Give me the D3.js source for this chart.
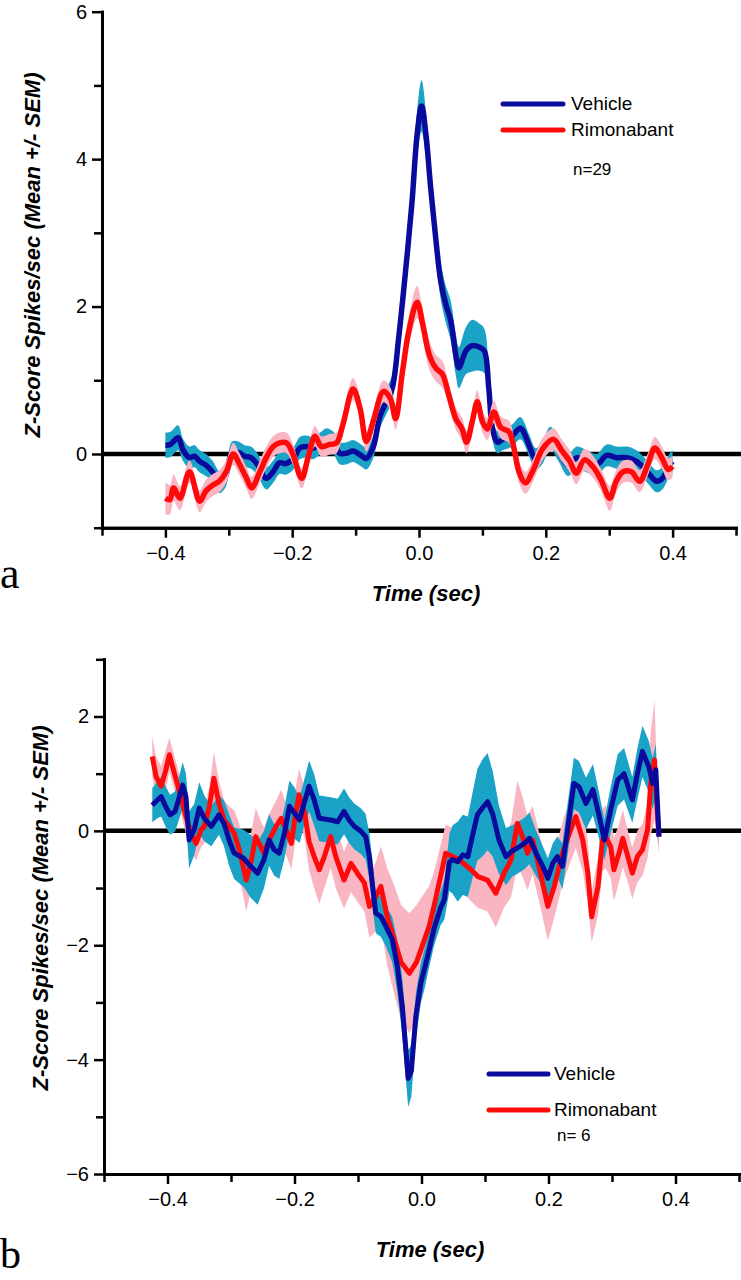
<!DOCTYPE html>
<html><head><meta charset="utf-8">
<script src="https://cdn.jsdelivr.net/npm/d3@7"></script>
<style>body{margin:0;background:#fff} svg{display:block}</style>
</head><body>
<svg id="c" width="741" height="1280"></svg>
<script>
// ---------- DATA ----------
// [time (sec), mean z-score, SEM]
const aVehicle = [
[-0.400,0.12,0.17],[-0.392,0.13,0.17],[-0.380,0.22,0.17],[-0.372,0.05,0.15],[-0.362,-0.05,0.15],
[-0.354,-0.03,0.15],[-0.346,-0.10,0.15],[-0.336,-0.15,0.15],[-0.325,-0.25,0.15],[-0.315,-0.38,0.15],
[-0.305,-0.30,0.15],[-0.295,0.02,0.15],[-0.285,0.02,0.15],[-0.275,-0.03,0.15],[-0.265,-0.05,0.15],
[-0.255,-0.14,0.15],[-0.241,-0.33,0.15],[-0.230,-0.24,0.15],[-0.220,-0.12,0.15],[-0.210,-0.13,0.15],
[-0.198,-0.06,0.15],[-0.188,0.08,0.15],[-0.178,0.10,0.15],[-0.167,0.08,0.15],[-0.156,0.14,0.15],
[-0.146,0.20,0.15],[-0.135,0.15,0.15],[-0.125,0.01,0.15],[-0.114,0.01,0.15],[-0.104,0.04,0.15],
[-0.093,-0.01,0.15],[-0.083,-0.06,0.15],[-0.072,0.10,0.15],[-0.062,0.50,0.16],[-0.051,0.72,0.17],
[-0.042,0.90,0.18],[-0.032,1.58,0.22],[-0.021,2.50,0.25],[-0.011,3.42,0.28],[-0.003,4.33,0.32],
[0.004,4.72,0.35],[0.011,4.33,0.32],[0.018,3.65,0.28],[0.026,2.96,0.25],[0.034,2.36,0.25],
[0.042,2.04,0.25],[0.050,1.81,0.27],[0.058,1.35,0.28],[0.063,1.17,0.28],[0.074,1.40,0.32],
[0.084,1.47,0.35],[0.095,1.45,0.32],[0.103,1.40,0.30],[0.110,0.90,0.22],[0.116,0.34,0.16],
[0.124,0.16,0.15],[0.132,0.20,0.15],[0.147,0.25,0.15],[0.160,0.35,0.15],[0.174,0.11,0.15],
[0.184,-0.07,0.15],[0.195,0.02,0.15],[0.207,0.22,0.15],[0.220,0.05,0.15],[0.235,-0.15,0.15],
[0.249,-0.05,0.15],[0.265,-0.10,0.15],[0.280,-0.15,0.15],[0.296,-0.02,0.15],[0.312,-0.05,0.15],
[0.328,-0.05,0.15],[0.343,-0.10,0.15],[0.359,-0.23,0.15],[0.375,-0.37,0.15],[0.385,-0.32,0.15],
[0.395,-0.15,0.15],[0.400,-0.10,0.15]
];
const aRimonabant = [
[-0.400,-0.60,0.22],[-0.393,-0.62,0.20],[-0.387,-0.46,0.18],[-0.377,-0.60,0.16],[-0.362,-0.24,0.15],
[-0.346,-0.64,0.15],[-0.336,-0.50,0.15],[-0.325,-0.42,0.15],[-0.315,-0.37,0.15],[-0.304,-0.24,0.15],
[-0.293,0.00,0.15],[-0.283,-0.14,0.15],[-0.272,-0.33,0.15],[-0.264,-0.46,0.15],[-0.251,-0.24,0.15],
[-0.241,-0.05,0.15],[-0.230,0.10,0.14],[-0.220,0.15,0.14],[-0.209,0.15,0.14],[-0.199,0.00,0.14],
[-0.185,-0.33,0.14],[-0.175,-0.05,0.14],[-0.164,0.24,0.14],[-0.154,0.10,0.14],[-0.141,0.13,0.14],
[-0.130,0.15,0.14],[-0.120,0.40,0.14],[-0.104,0.88,0.15],[-0.093,0.62,0.15],[-0.083,0.17,0.14],
[-0.072,0.45,0.14],[-0.056,0.85,0.15],[-0.045,0.75,0.15],[-0.037,0.48,0.15],[-0.026,1.12,0.18],
[-0.016,1.67,0.20],[-0.003,2.06,0.22],[0.005,1.80,0.20],[0.016,1.35,0.20],[0.026,1.17,0.18],
[0.037,1.08,0.18],[0.047,0.80,0.15],[0.058,0.48,0.15],[0.068,0.34,0.15],[0.075,0.16,0.15],
[0.084,0.44,0.15],[0.092,0.71,0.15],[0.100,0.44,0.15],[0.108,0.34,0.15],[0.118,0.57,0.15],
[0.129,0.36,0.15],[0.142,0.30,0.15],[0.150,0.07,0.15],[0.158,-0.25,0.15],[0.168,-0.39,0.15],
[0.180,-0.22,0.15],[0.195,0.07,0.15],[0.212,0.20,0.15],[0.225,0.05,0.15],[0.238,-0.10,0.15],
[0.248,-0.26,0.15],[0.261,-0.08,0.15],[0.275,-0.18,0.15],[0.287,-0.35,0.15],[0.301,-0.60,0.17],
[0.311,-0.37,0.15],[0.322,-0.24,0.15],[0.335,-0.24,0.15],[0.348,-0.37,0.15],[0.361,-0.14,0.15],
[0.372,0.08,0.15],[0.383,-0.05,0.15],[0.393,-0.21,0.15],[0.400,-0.17,0.15]
];
const bVehicle = [
[-0.424,0.45,0.30],[-0.416,0.54,0.32],[-0.410,0.60,0.35],[-0.404,0.45,0.35],[-0.396,0.28,0.35],
[-0.388,0.34,0.35],[-0.376,0.80,0.40],[-0.371,0.60,0.40],[-0.366,-0.16,0.50],[-0.358,0.02,0.45],
[-0.350,0.40,0.45],[-0.342,0.22,0.40],[-0.331,0.08,0.35],[-0.319,0.28,0.35],[-0.311,0.13,0.40],
[-0.303,-0.16,0.45],[-0.295,-0.39,0.45],[-0.280,-0.48,0.50],[-0.269,-0.62,0.55],[-0.258,-0.74,0.55],
[-0.248,-0.50,0.50],[-0.240,-0.16,0.45],[-0.232,-0.33,0.45],[-0.224,-0.39,0.45],[-0.216,-0.05,0.45],
[-0.208,0.43,0.45],[-0.200,0.31,0.45],[-0.192,0.19,0.40],[-0.185,0.48,0.40],[-0.177,0.78,0.45],
[-0.169,0.54,0.45],[-0.161,0.22,0.40],[-0.143,0.19,0.40],[-0.132,0.16,0.40],[-0.122,0.34,0.40],
[-0.114,0.19,0.40],[-0.106,0.08,0.40],[-0.096,0.00,0.40],[-0.088,-0.10,0.40],[-0.082,-0.45,0.40],
[-0.077,-0.97,0.40],[-0.072,-1.44,0.35],[-0.064,-1.50,0.35],[-0.056,-1.67,0.35],[-0.046,-1.90,0.40],
[-0.038,-2.37,0.45],[-0.030,-3.10,0.50],[-0.021,-4.33,0.50],[-0.016,-4.20,0.45],[-0.009,-3.25,0.40],
[-0.001,-2.66,0.35],[0.005,-2.40,0.35],[0.012,-2.08,0.30],[0.020,-1.70,0.30],[0.030,-1.35,0.30],
[0.036,-1.20,0.35],[0.044,-0.55,0.50],[0.049,-0.50,0.60],[0.057,-0.54,0.70],[0.065,-0.42,0.70],
[0.073,-0.45,0.70],[0.081,-0.05,0.75],[0.088,0.28,0.80],[0.096,0.40,0.85],[0.104,0.51,0.85],
[0.112,0.30,0.75],[0.122,-0.16,0.60],[0.133,-0.45,0.50],[0.143,-0.35,0.45],[0.151,-0.30,0.45],
[0.162,-0.22,0.45],[0.170,-0.13,0.45],[0.180,-0.38,0.40],[0.191,-0.62,0.35],[0.199,-0.83,0.35],
[0.207,-0.56,0.35],[0.214,-0.45,0.35],[0.222,-0.62,0.40],[0.230,0.02,0.45],[0.240,0.83,0.45],
[0.248,0.77,0.45],[0.259,0.48,0.45],[0.270,0.72,0.45],[0.280,0.25,0.40],[0.288,-0.16,0.35],
[0.298,0.37,0.40],[0.309,0.89,0.45],[0.319,1.00,0.45],[0.332,0.54,0.40],[0.340,1.00,0.45],
[0.348,1.39,0.45],[0.358,1.12,0.45],[0.364,0.83,0.45],[0.369,1.07,0.45],[0.374,-0.10,0.15]
];
const bRimonabant = [
[-0.424,1.30,0.35],[-0.418,0.95,0.35],[-0.410,0.78,0.35],[-0.403,1.05,0.35],[-0.397,1.33,0.30],
[-0.389,1.00,0.30],[-0.379,0.60,0.30],[-0.371,0.25,0.30],[-0.363,-0.04,0.30],[-0.355,-0.22,0.30],
[-0.347,0.02,0.30],[-0.342,0.08,0.30],[-0.334,0.43,0.35],[-0.327,0.92,0.45],[-0.319,0.48,0.40],
[-0.311,0.19,0.35],[-0.303,0.08,0.35],[-0.295,-0.04,0.40],[-0.287,-0.33,0.45],[-0.276,-0.86,0.55],
[-0.269,-0.57,0.50],[-0.261,-0.10,0.50],[-0.253,-0.28,0.45],[-0.248,-0.39,0.45],[-0.240,-0.16,0.45],
[-0.229,0.08,0.45],[-0.221,0.22,0.50],[-0.213,0.02,0.45],[-0.205,-0.22,0.45],[-0.198,0.31,0.45],
[-0.193,0.63,0.45],[-0.184,0.31,0.45],[-0.177,-0.19,0.50],[-0.169,-0.45,0.55],[-0.161,-0.68,0.60],
[-0.153,-0.45,0.55],[-0.143,-0.10,0.55],[-0.135,-0.45,0.55],[-0.122,-0.86,0.50],[-0.111,-0.57,0.50],
[-0.101,-0.74,0.50],[-0.090,-0.91,0.50],[-0.082,-1.32,0.55],[-0.072,-1.15,0.60],[-0.064,-0.97,0.70],
[-0.054,-1.50,0.85],[-0.043,-1.90,0.95],[-0.032,-2.30,1.00],[-0.019,-2.49,1.05],[-0.008,-2.30,1.00],
[-0.001,-2.08,0.90],[0.012,-1.67,0.70],[0.020,-1.30,0.60],[0.030,-0.80,0.55],[0.038,-0.39,0.50],
[0.049,-0.45,0.50],[0.060,-0.51,0.50],[0.078,-0.68,0.55],[0.089,-0.80,0.55],[0.104,-0.86,0.55],
[0.117,-1.09,0.60],[0.130,-0.74,0.60],[0.141,-0.51,0.65],[0.151,0.13,0.75],[0.159,-0.10,0.70],
[0.167,-0.39,0.65],[0.175,-0.16,0.60],[0.185,-0.62,0.60],[0.199,-1.32,0.60],[0.209,-0.97,0.55],
[0.222,-0.39,0.55],[0.235,0.02,0.55],[0.243,0.25,0.55],[0.254,-0.16,0.55],[0.262,-0.74,0.55],
[0.268,-1.50,0.45],[0.278,-0.97,0.50],[0.285,-0.16,0.55],[0.290,-0.10,0.55],[0.298,-0.28,0.55],
[0.303,-0.68,0.55],[0.311,-0.39,0.50],[0.317,-0.13,0.50],[0.325,-0.45,0.45],[0.332,-0.74,0.45],
[0.340,-0.45,0.45],[0.348,-0.33,0.45],[0.356,0.02,0.50],[0.361,0.83,0.90],[0.367,1.24,1.05],
[0.371,0.40,0.50],[0.374,-0.10,0.30]
];
const xMajorTicks = [-0.4,-0.2,0.0,0.2,0.4];
const xMinorTicks = [-0.5,-0.3,-0.1,0.1,0.3,0.5];
const aYMajor = [0,2,4,6], aYMinor = [-1,1,3,5];
const bYMajor = [-6,-4,-2,0,2], bYMinor = [-5,-3,-1,1,3];
const seriesNames = ["Vehicle","Rimonabant"];
const nLabels = ["n=29","n= 6"];
const panelLetters = ["a","b"];
const yTitle = "Z-Score Spikes/sec (Mean +/- SEM)";
const xTitle = "Time (sec)";

// ---------- STYLE ----------
const C = {vehLine:"#0a0a9c", vehBand:"#1ba3c7", rimLine:"#ff0a0a", rimBand:"#f9b6c2"};
const svg = d3.select("#c");
const tickFont = "Liberation Sans, Arial, sans-serif";

function panel(o){
  const g = svg.append("g");
  const x = d3.scaleLinear().domain([-0.5,0.5]).range(o.xr);
  const y = d3.scaleLinear().domain(o.yd).range(o.yr);
  const curve = o.smooth ? d3.curveCatmullRom.alpha(0.5) : d3.curveLinear;
  const area = d3.area().x(d=>x(d[0])).y0(d=>y(d[1]-d[2])).y1(d=>y(d[1]+d[2])).curve(curve);
  const line = d3.line().x(d=>x(d[0])).y(d=>y(d[1])).curve(curve);

  // zero line
  g.append("line").attr("x1",o.xr[0]).attr("x2",741).attr("y1",y(0)).attr("y2",y(0))
    .attr("stroke","#000").attr("stroke-width",4.5);

  o.order.forEach(L=>{
    if(L==="vb") g.append("path").attr("d",area(o.veh)).attr("fill",C.vehBand);
    if(L==="rb") g.append("path").attr("d",area(o.rim)).attr("fill",C.rimBand);
    if(L==="vl") g.append("path").attr("d",line(o.veh)).attr("fill","none").attr("stroke",C.vehLine).attr("stroke-width",o.lw).attr("stroke-linejoin","round");
    if(L==="rl") g.append("path").attr("d",line(o.rim)).attr("fill","none").attr("stroke",C.rimLine).attr("stroke-width",o.lw).attr("stroke-linejoin","round");
  });

  // axes
  const xa = g.append("g").attr("transform",`translate(0,${o.yr[0]})`);
  xa.call(d3.axisBottom(x).tickValues(xMajorTicks).tickFormat(d3.format(".1f")).tickSize(10).tickSizeOuter(0).tickPadding(8));
  xa.call(s=>s.append("g").call(d3.axisBottom(x).tickValues(xMinorTicks).tickFormat("").tickSize(8).tickSizeOuter(0)));
  const ya = g.append("g").attr("transform",`translate(${o.xr[0]},0)`);
  ya.call(d3.axisLeft(y).tickValues(o.yMajor).tickFormat(d3.format("d")).tickSize(10).tickSizeOuter(0).tickPadding(5));
  ya.call(s=>s.append("g").call(d3.axisLeft(y).tickValues(o.yMinor).tickFormat("").tickSize(8).tickSizeOuter(0)));
  g.selectAll(".domain").attr("stroke","#000").attr("stroke-width",3).attr("stroke-linecap","square");
  g.selectAll(".tick line").attr("stroke","#000").attr("stroke-width",2.5);
  g.selectAll(".tick text").attr("font-family",tickFont).attr("font-size",20).attr("fill","#000");

  // titles
  g.append("text").attr("x",o.xtPos[0]).attr("y",o.xtPos[1]).attr("text-anchor","middle")
    .attr("font-family",tickFont).attr("font-weight","bold").attr("font-style","italic").attr("font-size",22)
    .text(xTitle);
  g.append("text").attr("transform",`translate(${o.ytPos[0]},${o.ytPos[1]}) rotate(-90)`).attr("text-anchor","middle")
    .attr("font-family",tickFont).attr("font-weight","bold").attr("font-style","italic").attr("font-size",22)
    .text(yTitle);
  g.append("text").attr("x",0).attr("y",o.letterY).attr("font-family","Liberation Serif, Times New Roman, serif")
    .attr("font-size",o.letterSize).text(o.letter);

  // legend
  const lg = g.append("g");
  [C.vehLine, C.rimLine].forEach((col,i)=>{
    const ly = o.leg.ys[i];
    lg.append("line").attr("x1",o.leg.x0).attr("x2",o.leg.x1).attr("y1",ly).attr("y2",ly)
      .attr("stroke",col).attr("stroke-width",5).attr("stroke-linecap","round");
    lg.append("text").attr("x",o.leg.tx).attr("y",ly+6).attr("font-family",tickFont).attr("font-size",19).text(seriesNames[i]);
  });
  lg.append("text").attr("x",o.leg.nx).attr("y",o.leg.ny).attr("font-family",tickFont).attr("font-size",17).text(o.n);
}

panel({xr:[102,736], yd:[-1,6], yr:[527.7,11.7], smooth:true, lw:5.5,
  veh:aVehicle, rim:aRimonabant, order:["vb","vl","rb","rl"],
  yMajor:aYMajor, yMinor:aYMinor, xtPos:[426,601], ytPos:[40,255], letter:panelLetters[0], letterY:588, letterSize:44,
  leg:{x0:503,x1:563,ys:[104,130],tx:571,nx:573,ny:175}, n:nLabels[0]});

panel({xr:[104,739], yd:[-6,3], yr:[1174,659.3], smooth:false, lw:5,
  veh:bVehicle, rim:bRimonabant, order:["rb","vb","rl","vl"],
  yMajor:bYMajor, yMinor:bYMinor, xtPos:[430,1257], ytPos:[48,908], letter:panelLetters[1], letterY:1268, letterSize:42,
  leg:{x0:489,x1:548,ys:[1074,1110],tx:554,nx:557,ny:1141}, n:nLabels[1]});
</script></body></html>
